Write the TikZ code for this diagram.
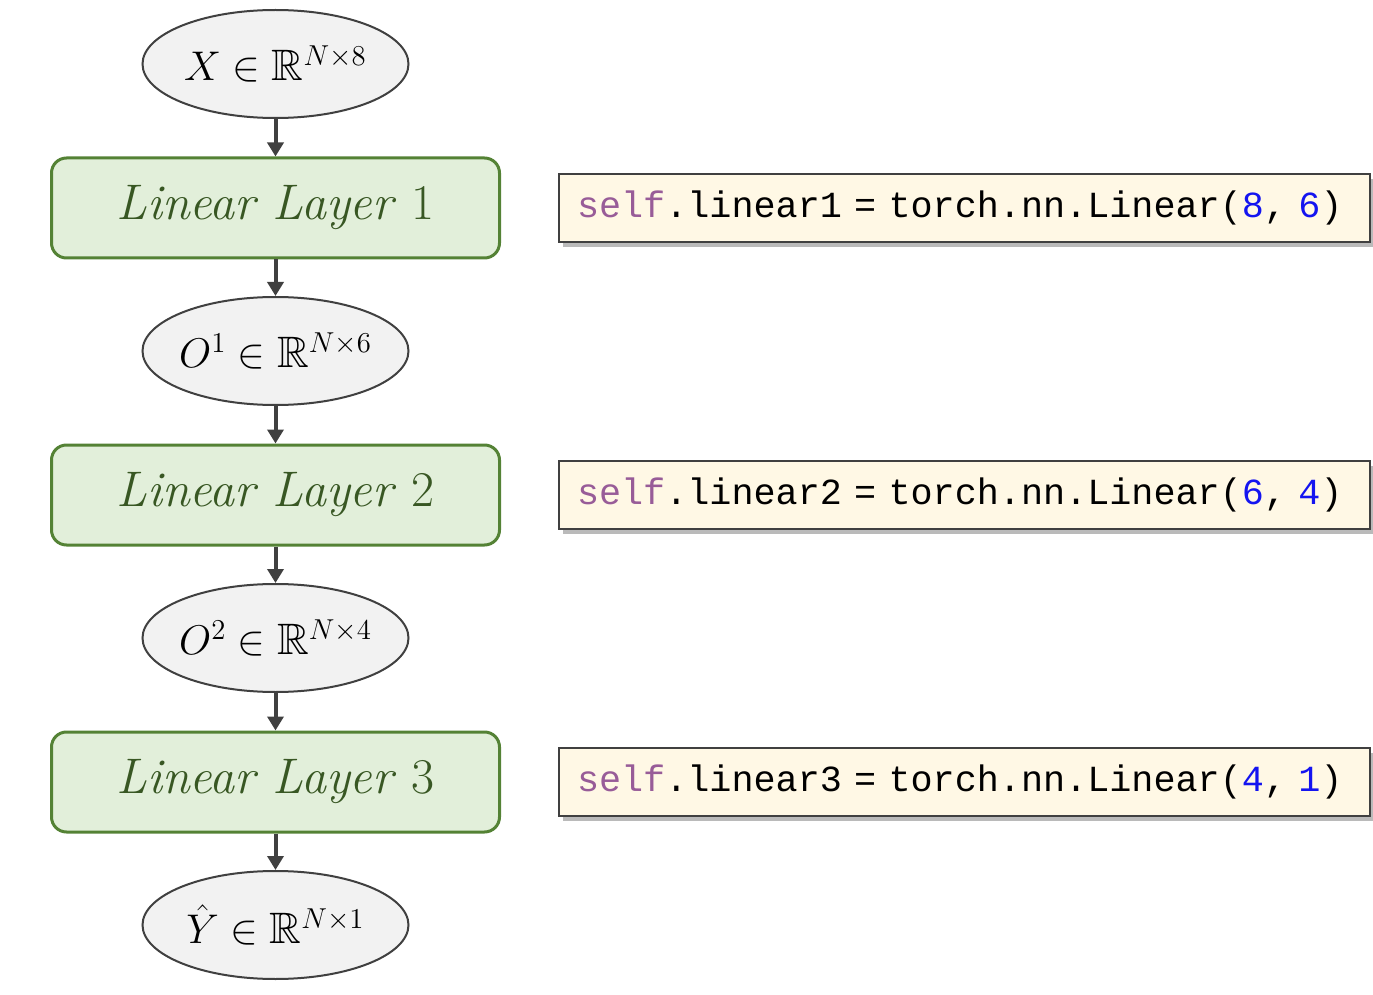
\documentclass[tikz,border=0pt]{standalone}
\usepackage{amsmath,amssymb}
\usepackage{fontspec}
\setmonofont{Liberation Mono}
\usepackage{xcolor}
\definecolor{tensorFill}{RGB}{242,242,242}
\definecolor{edgeGray}{RGB}{64,64,64}
\definecolor{layerFill}{RGB}{226,239,218}
\definecolor{layerGreen}{RGB}{84,130,53}
\definecolor{layerText}{RGB}{56,87,35}
\definecolor{codeFill}{RGB}{255,248,229}
\definecolor{codePurple}{RGB}{152,92,152}
\definecolor{codeBlue}{RGB}{20,20,240}
\usepackage{tikz}
\usetikzlibrary{arrows.meta,shapes.geometric,shadows}
\tikzset{
  tensor node/.style={ellipse, draw=edgeGray, fill=tensorFill, line width=1pt, minimum width=133pt, minimum height=54pt, inner xsep=-10pt, inner ysep=0pt, font=\fontsize{22}{26}\selectfont},
  layer node/.style={draw=layerGreen, fill=layerFill, rounded corners=7.5pt, line width=1.5pt, minimum width=224pt, minimum height=50pt, text=layerText, font=\fontsize{25}{29}\selectfont},
  code node/.style={draw=edgeGray, fill=codeFill, line width=0.6pt, text width=387.5pt, inner xsep=9pt, minimum height=34pt, align=left, font=\ttfamily\fontsize{18.4}{21}\selectfont, drop shadow={shadow xshift=2pt, shadow yshift=-2.5pt, fill=black!45, opacity=0.6}},
  flow edge/.style={-{Triangle[length=7pt, width=8pt]}, line width=2pt, draw=edgeGray},
}
\newcommand{\pyself}{\textcolor{codePurple}{self}}
\newcommand{\pynum}[1]{\textcolor{codeBlue}{#1}}

\begin{document}
\begin{tikzpicture}[x=0.5pt, y=-0.5pt]
  \useasboundingbox (0,0) rectangle (1373,995);
  % tensors and layers, top to bottom
  \node[tensor node] (x)  at (275.5,64)  {$X \in \mathbb{R}^{N\times 8}$};
  \node[layer node]  (l1) at (275.5,208) {\textit{Linear Layer} 1};
  \node[tensor node] (o1) at (275.5,351) {$O^1 \in \mathbb{R}^{N\times 6}$};
  \node[layer node]  (l2) at (275.5,495) {\textit{Linear Layer} 2};
  \node[tensor node] (o2) at (275.5,638) {$O^2 \in \mathbb{R}^{N\times 4}$};
  \node[layer node]  (l3) at (275.5,782) {\textit{Linear Layer} 3};
  \node[tensor node] (y)  at (275.5,925) {$\hat{Y} \in \mathbb{R}^{N\times 1}$};
  \draw[flow edge] (x.south) -- (l1.north);
  \draw[flow edge] (l1.south) -- (o1.north);
  \draw[flow edge] (o1.south) -- (l2.north);
  \draw[flow edge] (l2.south) -- (o2.north);
  \draw[flow edge] (o2.south) -- (l3.north);
  \draw[flow edge] (l3.south) -- (y.north);
  % matching code lines
  \node[code node] (c1) at (964.5,208) {\pyself.linear1 = torch.nn.Linear(\pynum{8}, \pynum{6})};
  \node[code node] (c2) at (964.5,495) {\pyself.linear2 = torch.nn.Linear(\pynum{6}, \pynum{4})};
  \node[code node] (c3) at (964.5,782) {\pyself.linear3 = torch.nn.Linear(\pynum{4}, \pynum{1})};
\end{tikzpicture}
\end{document}
